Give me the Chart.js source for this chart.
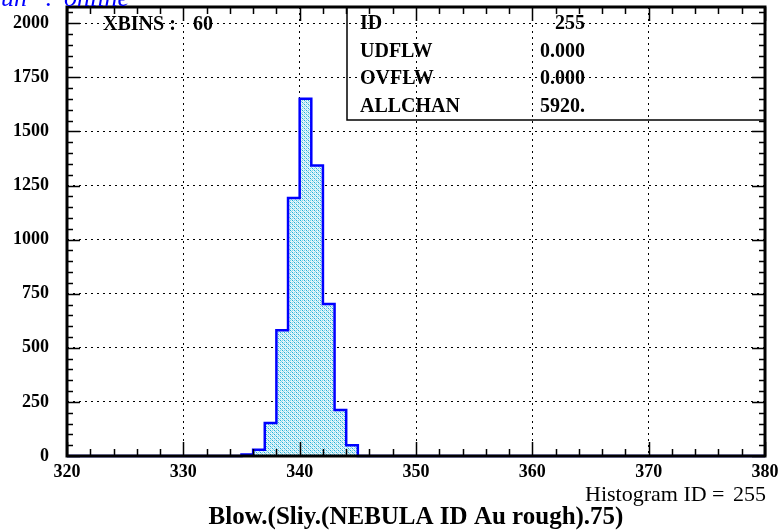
<!DOCTYPE html>
<html lang="en">
<head>
    <meta charset="UTF-8">
    <title>Histogram 255</title>
    <script src="https://cdn.jsdelivr.net/npm/chart.js"></script>
    <style>
        body { margin: 0; background: #fff; }
        canvas { display: block; }
    </style>
</head>
<body>
    <canvas id="histo" width="780" height="531"></canvas>
    <script>
        // histogram definition
        const xMin = 320;
        const xMax = 380;
        const nBins = 60;
        const binCounts = [
            0, 0, 0, 0, 0, 0, 0, 0, 0, 0,
            0, 0, 0, 0, 0, 7, 29, 152, 581, 1192,
            1651, 1342, 703, 213, 50, 0, 0, 0, 0, 0,
            0, 0, 0, 0, 0, 0, 0, 0, 0, 0,
            0, 0, 0, 0, 0, 0, 0, 0, 0, 0,
            0, 0, 0, 0, 0, 0, 0, 0, 0, 0
        ];
        const yMax = 2075;
        const xStep = 10;
        const yStep = 250;

        // stats box
        const statLabels = ['ID', 'UDFLW', 'OVFLW', 'ALLCHAN'];
        const statValues = ['255', '0.000', '0.000', '5920.'];

        const serif = "'Liberation Serif', 'Times New Roman', serif";

        // step outline points at the bin edges
        const binWidth = (xMax - xMin) / nBins;
        const edgePoints = binCounts.map((c, i) => ({ x: xMin + i * binWidth, y: c }));
        edgePoints.push({ x: xMax, y: binCounts[nBins - 1] });

        // dotted cyan fill, like the PAW hatch
        function makePattern() {
            const tile = document.createElement('canvas');
            tile.width = 4;
            tile.height = 4;
            const t = tile.getContext('2d');
            t.fillStyle = '#e2f5fa';
            t.fillRect(0, 0, 4, 4);
            t.fillStyle = '#20b0d8';
            t.fillRect(0, 0, 1, 1);
            t.fillRect(2, 2, 1, 1);
            t.fillStyle = '#86d3e9';
            t.fillRect(0, 2, 1, 1);
            t.fillRect(2, 0, 1, 1);
            t.fillRect(1, 1, 1, 1);
            t.fillRect(3, 3, 1, 1);
            return t.createPattern(tile, 'repeat');
        }

        const pawPlugin = {
            id: 'paw',
            beforeDraw(chart) {
                const ctx = chart.ctx;
                ctx.save();
                ctx.fillStyle = '#fff';
                ctx.fillRect(0, 0, chart.width, chart.height);
                ctx.restore();
            },
            afterDatasetsDraw(chart) {
                const ctx = chart.ctx;
                const a = chart.chartArea;
                const xs = chart.scales.x;
                const ys = chart.scales.y;
                ctx.save();

                // inner tick marks on all four sides
                ctx.strokeStyle = '#000';
                ctx.lineWidth = 1.5;
                ctx.beginPath();
                for (let v = xMin; v <= xMax; v += 2) {
                    const px = Math.round(xs.getPixelForValue(v)) + 0.5;
                    const len = v % xStep === 0 ? 14 : 7;
                    ctx.moveTo(px, a.bottom);
                    ctx.lineTo(px, a.bottom - len);
                    ctx.moveTo(px, a.top);
                    ctx.lineTo(px, a.top + len);
                }
                for (let v = 0; v <= yMax; v += 50) {
                    const py = Math.round(ys.getPixelForValue(v)) + 0.5;
                    const len = v % yStep === 0 ? 13 : 6;
                    ctx.moveTo(a.left, py);
                    ctx.lineTo(a.left + len, py);
                    ctx.moveTo(a.right, py);
                    ctx.lineTo(a.right - len, py);
                }
                ctx.stroke();

                // frame
                ctx.lineWidth = 3;
                ctx.strokeRect(a.left, a.top, a.right - a.left, a.bottom - a.top);

                // stats box
                ctx.lineWidth = 1.5;
                ctx.strokeRect(347, a.top, a.right - 347, 113);
                ctx.fillStyle = '#000';
                ctx.font = 'bold 20px ' + serif;
                ctx.textBaseline = 'alphabetic';
                statLabels.forEach((lab, i) => {
                    const by = 29 + i * 27.5;
                    ctx.textAlign = 'left';
                    ctx.fillText(lab, 360, by);
                    ctx.textAlign = 'right';
                    ctx.fillText(statValues[i], 585, by);
                });

                // bins label
                ctx.textAlign = 'left';
                ctx.fillText('XBINS :', 103, 30);
                ctx.fillText(String(nBins), 193, 30);

                // run label, clipped at the top
                ctx.fillStyle = '#0000ff';
                ctx.font = 'italic 26px ' + serif;
                ctx.fillText('un', 1, 6);
                ctx.fillText(':', 45, 6);
                ctx.fillText('online', 64, 6);

                // footer texts
                ctx.fillStyle = '#000';
                ctx.font = '22px ' + serif;
                ctx.fillText('Histogram ID =', 585, 501);
                ctx.textAlign = 'right';
                ctx.fillText('255', 766, 501);
                ctx.textAlign = 'center';
                ctx.font = 'bold 25px ' + serif;
                ctx.fillText('Blow.(Sliy.(NEBULA ID Au rough).75)', 416, 524);

                ctx.restore();
            }
        };

        const ctx = document.getElementById('histo').getContext('2d');
        const histo = new Chart(ctx, {
            type: 'line',
            data: {
                datasets: [{
                    data: edgePoints,
                    stepped: 'before',
                    borderColor: '#0000ff',
                    borderWidth: 2.5,
                    backgroundColor: makePattern(),
                    fill: 'origin',
                    pointRadius: 0,
                    tension: 0,
                    clip: false
                }]
            },
            options: {
                responsive: false,
                devicePixelRatio: 1,
                animation: false,
                layout: { padding: { top: 7, right: 15, left: 0, bottom: 0 } },
                plugins: {
                    legend: { display: false },
                    tooltip: { enabled: false }
                },
                scales: {
                    x: {
                        type: 'linear',
                        min: xMin,
                        max: xMax,
                        afterFit: function (s) {
                            s.height = 75;
                            s.paddingLeft = 0;
                            s.paddingRight = 0;
                        },
                        ticks: {
                            stepSize: xStep,
                            autoSkip: false,
                            maxRotation: 0,
                            padding: 6,
                            color: '#000',
                            font: { family: serif, weight: 'bold', size: 18 },
                            callback: function (v) { return String(v); }
                        },
                        grid: {
                            drawTicks: false,
                            lineWidth: 1,
                            color: function (c) {
                                const v = c.tick ? c.tick.value : null;
                                return (v === xMin || v === xMax) ? 'rgba(0,0,0,0)' : '#000';
                            }
                        },
                        border: { display: false, dash: [2, 4] }
                    },
                    y: {
                        min: 0,
                        max: yMax,
                        afterFit: function (s) {
                            s.width = 67;
                            s.paddingTop = 0;
                            s.paddingBottom = 0;
                        },
                        ticks: {
                            stepSize: yStep,
                            includeBounds: false,
                            padding: 18,
                            color: '#000',
                            font: { family: serif, weight: 'bold', size: 18 },
                            callback: function (v) { return String(v); }
                        },
                        grid: {
                            drawTicks: false,
                            lineWidth: 1,
                            color: function (c) {
                                const v = c.tick ? c.tick.value : null;
                                return (v === 0 || v % yStep !== 0) ? 'rgba(0,0,0,0)' : '#000';
                            }
                        },
                        border: { display: false, dash: [2, 4] }
                    }
                }
            },
            plugins: [pawPlugin]
        });
    </script>
</body>
</html>
